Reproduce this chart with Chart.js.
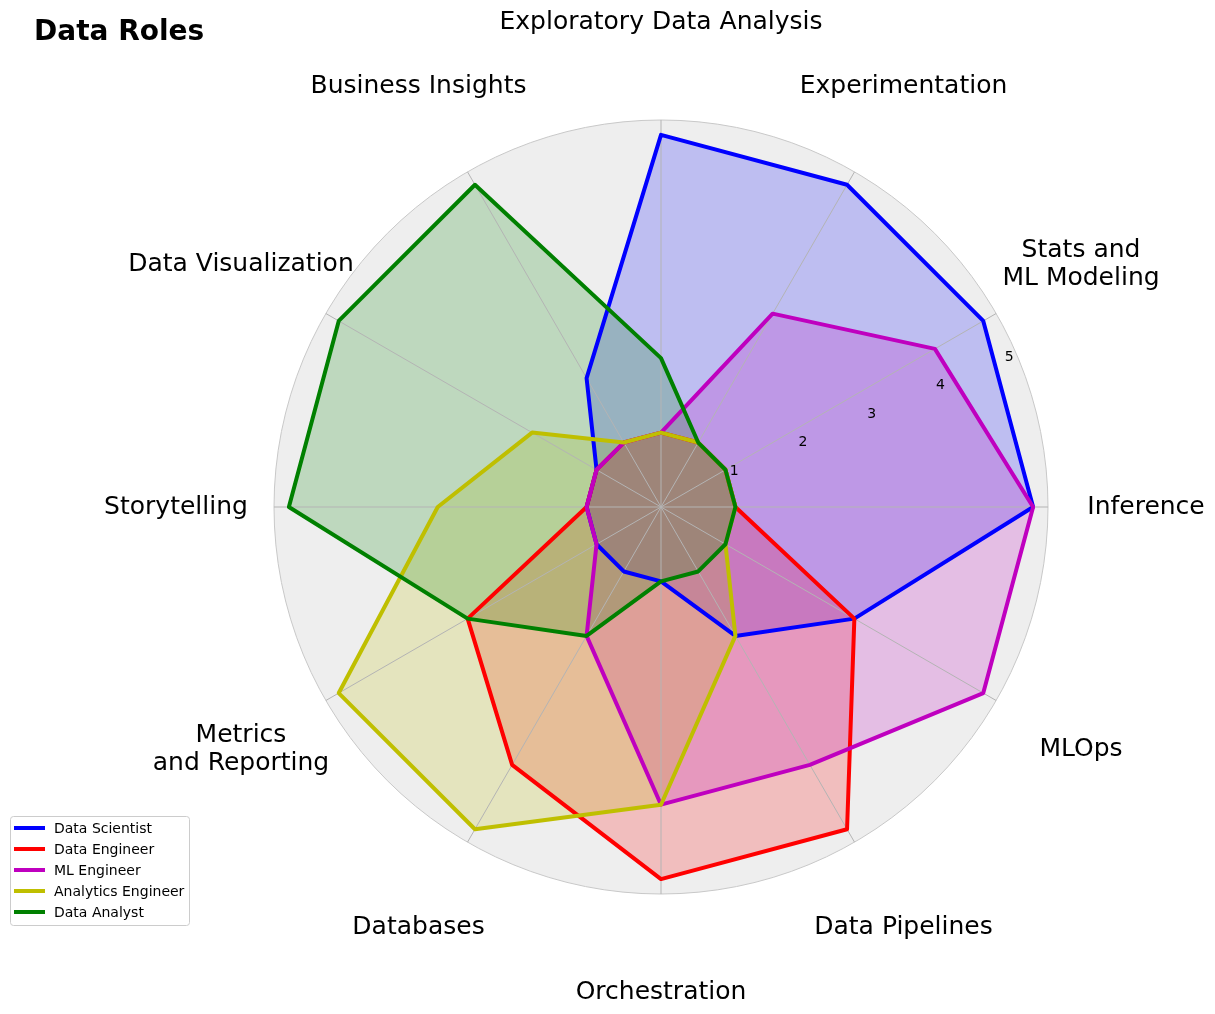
<!DOCTYPE html>
<html>
<head>
<meta charset="utf-8">
<script src="https://cdn.jsdelivr.net/npm/chart.js@4.4.1/dist/chart.umd.min.js"></script>
<style>
html,body{margin:0;padding:0;background:#ffffff;}
canvas{display:block;}
</style>
</head>
<body>
<canvas id="c" width="1215" height="1014"></canvas>
<script>
// ---- data ----
const categories = [
  'Exploratory Data Analysis', 'Experimentation', 'Stats and\nML Modeling', 'Inference',
  'MLOps', 'Data Pipelines', 'Orchestration', 'Databases',
  'Metrics\nand Reporting', 'Storytelling', 'Data Visualization', 'Business Insights'
];
const roles = ['Data Scientist', 'Data Engineer', 'ML Engineer', 'Analytics Engineer', 'Data Analyst'];
const dataScientist     = [5, 5, 5,    5, 3, 2, 1, 1, 1, 1, 1, 2];
const dataEngineer      = [1, 1, 1,    1, 3, 5, 5, 4, 3, 1, 1, 1];
const mlEngineer        = [1, 3, 4.25, 5, 5, 4, 4, 2, 1, 1, 1, 1];
const analyticsEngineer = [1, 1, 1,    1, 1, 2, 4, 5, 5, 3, 2, 1];
const dataAnalyst       = [2, 1, 1,    1, 1, 1, 1, 2, 3, 5, 5, 5];
const radialTicks = [1, 2, 3, 4, 5];
const radialMax = 5.2;
const titleText = 'Data Roles';

const seriesValues = [dataScientist, dataEngineer, mlEngineer, analyticsEngineer, dataAnalyst];
const lineColors = ['rgb(0,0,255)', 'rgb(255,0,0)', 'rgb(191,0,191)', 'rgb(191,191,0)', 'rgb(0,128,0)'];
const fillColors = ['rgba(0,0,255,0.2)', 'rgba(255,0,0,0.2)', 'rgba(191,0,191,0.2)', 'rgba(191,191,0,0.2)', 'rgba(0,128,0,0.2)'];

const FONT = "'DejaVu Sans', 'Liberation Sans', sans-serif";

const datasets = roles.map((name, i) => ({
  label: name,
  data: seriesValues[i],
  borderColor: lineColors[i],
  backgroundColor: fillColors[i],
  borderWidth: 4,
  borderJoinStyle: 'round',
  fill: true,
  pointRadius: 0,
  pointHoverRadius: 0,
  tension: 0,
  order: roles.length - 1 - i
}));

const decor = {
  id: 'decor',
  beforeDraw(chart) {
    const s = chart.scales.r, ctx = chart.ctx;
    const R = s.getDistanceFromCenterForValue(radialMax);
    ctx.save();
    ctx.beginPath();
    ctx.arc(s.xCenter, s.yCenter, R, 0, Math.PI * 2);
    ctx.fillStyle = '#eeeeee';
    ctx.fill();
    ctx.lineWidth = 1;
    ctx.strokeStyle = '#c8c8c8';
    ctx.stroke();
    ctx.restore();
  },
  beforeDatasetsDraw(chart) {
    const s = chart.scales.r, ctx = chart.ctx;
    const R = s.getDistanceFromCenterForValue(radialMax);
    ctx.save();
    ctx.strokeStyle = '#b4b4b4';
    ctx.lineWidth = 1;
    for (let i = 0; i < categories.length; i++) {
      const p = s.getPointPosition(i, R);
      ctx.beginPath();
      ctx.moveTo(s.xCenter, s.yCenter);
      ctx.lineTo(p.x, p.y);
      ctx.stroke();
    }
    ctx.restore();
  },
  afterDraw(chart) {
    const s = chart.scales.r, ctx = chart.ctx;
    const R = s.getDistanceFromCenterForValue(radialMax);
    ctx.save();
    // category labels
    ctx.fillStyle = '#000000';
    ctx.font = '25px ' + FONT;
    ctx.textAlign = 'center';
    ctx.textBaseline = 'middle';
    const lh = 28;
    categories.forEach((lab, i) => {
      const p = s.getPointPosition(i, R + 98);
      const lines = lab.split('\n');
      const y0 = p.y - (lines.length - 1) * lh / 2;
      lines.forEach((ln, k) => ctx.fillText(ln, p.x, y0 + k * lh));
    });
    // radial tick labels along 22.5 degrees
    ctx.font = '14px ' + FONT;
    const ang = 22.5 * Math.PI / 180;
    radialTicks.forEach(v => {
      const r = s.getDistanceFromCenterForValue(v);
      const x = s.xCenter + r * Math.cos(ang) + 4.5;
      const y = s.yCenter - r * Math.sin(ang) - 7.5;
      ctx.fillText(String(v), x, y);
    });
    // title
    ctx.font = 'bold 28px ' + FONT;
    ctx.textAlign = 'left';
    ctx.fillText(titleText, 34, 33);
    // legend
    const bx = 10.5, by = 816.5, bw = 179, bh = 109;
    ctx.beginPath();
    if (ctx.roundRect) ctx.roundRect(bx, by, bw, bh, 3); else ctx.rect(bx, by, bw, bh);
    ctx.fillStyle = 'rgba(255,255,255,0.8)';
    ctx.fill();
    ctx.strokeStyle = '#cccccc';
    ctx.lineWidth = 1;
    ctx.stroke();
    ctx.font = '14px ' + FONT;
    ctx.textBaseline = 'middle';
    roles.forEach((name, i) => {
      const y = 828 + i * 21;
      ctx.beginPath();
      ctx.moveTo(14, y);
      ctx.lineTo(45, y);
      ctx.strokeStyle = lineColors[i];
      ctx.lineWidth = 4;
      ctx.stroke();
      ctx.fillStyle = '#000000';
      ctx.fillText(name, 54, y + 1);
    });
    ctx.restore();
  }
};

new Chart(document.getElementById('c'), {
  type: 'radar',
  data: { labels: categories, datasets: datasets },
  options: {
    responsive: false,
    animation: false,
    layout: { padding: { left: 274, right: 167, top: 120, bottom: 120 } },
    plugins: {
      legend: { display: false },
      title: { display: false },
      tooltip: { enabled: false },
      filler: { drawTime: 'beforeDatasetsDraw' }
    },
    scales: {
      r: {
        min: 0,
        max: radialMax,
        ticks: { display: false, stepSize: 1 },
        grid: { display: false },
        angleLines: { display: false },
        pointLabels: { display: false }
      }
    }
  },
  plugins: [decor]
});
</script>
</body>
</html>
